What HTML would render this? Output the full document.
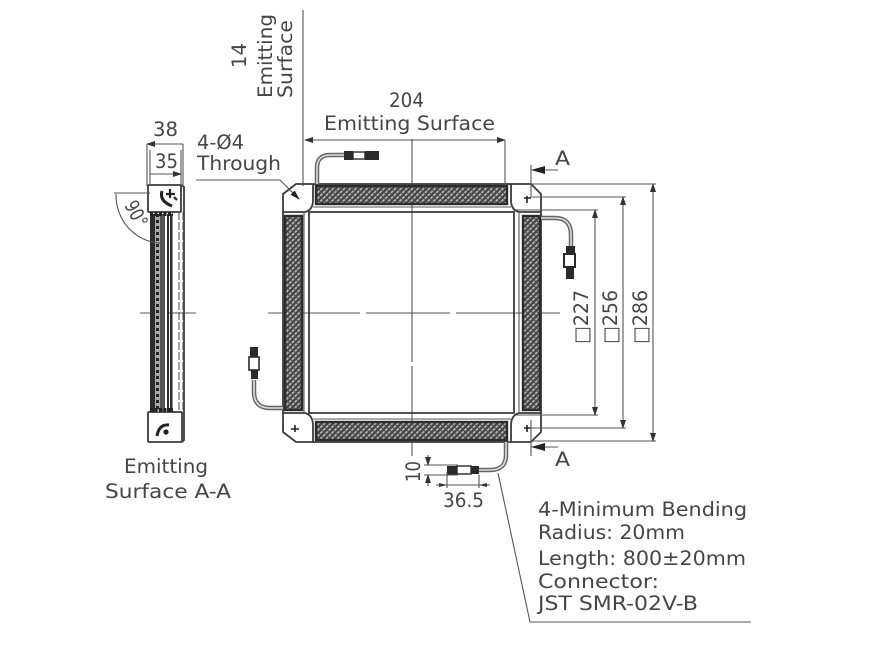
<!DOCTYPE html>
<html><head><meta charset="utf-8">
<style>
html,body{margin:0;padding:0;background:#fff;width:879px;height:664px;overflow:hidden}
svg{display:block}
text{font-family:"DejaVu Sans","Liberation Sans",sans-serif;font-size:19.5px;fill:#454545}
.d{stroke:#555;stroke-width:1.1;fill:none}
.m{stroke:#3a3a3a;stroke-width:1.8;fill:none}
.h{stroke:#2c2c2c;stroke-width:2.4;fill:url(#hatch)}
.c{stroke:#666;stroke-width:4.5;fill:none}
.ci{stroke:#ddd;stroke-width:1.6;fill:none}
</style></head><body>
<svg width="879" height="664" viewBox="0 0 879 664" xmlns="http://www.w3.org/2000/svg">
<defs>
<pattern id="hatch" width="4" height="4" patternUnits="userSpaceOnUse" patternTransform="rotate(45)">
<rect width="4" height="4" fill="#444"/>
<rect width="1.8" height="4" fill="#b4b4b4"/>
<rect width="4" height="1" fill="#444"/>
</pattern>
<marker id="ar" markerWidth="9" markerHeight="6" refX="8" refY="3" orient="auto-start-reverse" markerUnits="userSpaceOnUse"><path d="M0 0L9 3L0 6z" fill="#333"/></marker>
<marker id="bigar" markerWidth="14" markerHeight="8" refX="13" refY="4" orient="auto" markerUnits="userSpaceOnUse"><path d="M0 0L14 4L0 8z" fill="#222"/></marker>
<marker id="midar" markerWidth="10" markerHeight="6" refX="9" refY="3" orient="auto" markerUnits="userSpaceOnUse"><path d="M0 0L10 3L0 6z" fill="#222"/></marker>
</defs>

<!-- center lines -->
<path class="d" d="M412 139V362M412 366V456"/>
<path class="d" d="M268 313H360M366 313H450M456 313H560"/>
<path class="d" d="M140 313H196"/>
<path class="d" d="M303 10V186"/>

<!-- main frame -->
<path class="m" d="M296 184H531L541 194V432L531 442H296L283 432V194Z"/>
<path class="m" d="M309 212H514V413H309Z"/>
<path class="m" d="M283 212H305Q313 210 313 200V184M283 413H305Q313 415 313 426V442M541 212H519Q511 210 511 200V184M541 413H519Q511 415 511 426V442"/>
<path class="d" d="M304 212V413M519 212V413M313 207H511M313 419H511"/>
<rect class="h" x="316" y="186" width="191" height="18"/>
<rect class="h" x="316" y="422" width="191" height="18"/>
<rect class="h" x="285" y="216" width="17" height="194"/>
<rect class="h" x="523" y="216" width="17" height="194"/>

<!-- corner marks -->
<g stroke="#222" stroke-width="1.6">
<path d="M527 196V203M524 198H531"/><path d="M295 425V432M291 429H299"/><path d="M527 425V432M524 428H531"/>
</g>

<!-- cables -->
<g>
<path class="c" d="M317 184V168Q317 155 330 155H345"/><path class="ci" d="M317 184V168Q317 155 330 155H345"/>
<rect x="344" y="151" width="9" height="9" fill="#2a2a2a"/><rect x="353" y="152" width="12" height="7" fill="#fff" stroke="#2a2a2a" stroke-width="1.4"/><rect x="365" y="151" width="14" height="9" fill="#2a2a2a"/>

<path class="c" d="M541 218H555Q571 218 571 235V246"/><path class="ci" d="M541 218H555Q571 218 571 235V246"/>
<rect x="566" y="246" width="9" height="9" fill="#2a2a2a"/><rect x="564" y="254" width="11" height="13" fill="#fff" stroke="#2a2a2a" stroke-width="2"/><rect x="566" y="267" width="8" height="12" fill="#2a2a2a"/>

<path class="c" d="M283 408H270Q254 408 254 392V380"/><path class="ci" d="M283 408H270Q254 408 254 392V380"/>
<rect x="250" y="347" width="8" height="10" fill="#2a2a2a"/><rect x="249" y="357" width="10" height="13" fill="#fff" stroke="#2a2a2a" stroke-width="1.6"/><rect x="251" y="370" width="7" height="9" fill="#2a2a2a"/>

<path class="c" d="M506 442V455Q506 470 490 470H479"/><path class="ci" d="M506 442V455Q506 470 490 470H479"/>
<rect x="447" y="466" width="10" height="9" fill="#2a2a2a"/><rect x="457" y="466" width="14" height="8" fill="#fff" stroke="#2a2a2a" stroke-width="1.4"/><rect x="471" y="466" width="8" height="8" fill="#2a2a2a"/>
</g>

<!-- side view -->
<rect x="148" y="185" width="33" height="27" class="m" rx="1"/>
<rect x="148" y="412" width="34" height="30" class="m" rx="1"/>
<path class="m" d="M181 185L184 187V440L182 442"/>
<rect x="150" y="214" width="5" height="198" fill="#2c2c2c"/>
<rect x="155" y="214" width="5" height="198" fill="#aaa"/>
<path d="M157.500 214V412" stroke="#222" stroke-width="3" stroke-dasharray="3 3"/>
<rect x="160" y="214" width="5" height="198" fill="#555"/>
<rect x="165" y="214" width="2" height="198" fill="#fff"/>
<rect x="167" y="214" width="2" height="198" fill="#2c2c2c"/>
<rect x="170" y="214" width="2.500" height="198" fill="#2c2c2c"/>
<path class="d" d="M179 212V412M183 212V412" stroke-dasharray="8 2"/>
<path d="M150 214H173M150 410H173" stroke="#222" stroke-width="4" stroke-dasharray="3 1.500"/>
<path d="M162 191Q159 201 172 206" stroke="#222" stroke-width="3" fill="none"/>
<path d="M170 189V198M166 194H175M174 197l3 3" stroke="#222" stroke-width="2.200" fill="none"/>
<path d="M169 425Q159 424 157 436" stroke="#222" stroke-width="3" fill="none"/>
<circle cx="166" cy="432" r="2.600" fill="#222"/>

<!-- dimensions -->
<path class="d" d="M147 144V186M183 144V186M150 150V186M181 150V186"/>
<path class="d" d="M147 144H183M150 174H181" marker-start="url(#ar)" marker-end="url(#ar)"/>
<path class="d" d="M114 193H150"/>
<path class="d" d="M116 194A46 48 0 0 0 165 243" />
<path class="d" d="M305 140H505" marker-start="url(#ar)" marker-end="url(#ar)"/>
<path class="d" d="M505 140V186"/>
<path class="d" d="M196 180H280L299 199" marker-end="url(#midar)"/>

<path class="d" d="M516 210H598M530 197H626M531 184H656M516 415H598M530 428H626M531 441H656"/>
<path class="d" d="M595 210V415" marker-start="url(#ar)" marker-end="url(#ar)"/>
<path class="d" d="M623 197V428" marker-start="url(#ar)" marker-end="url(#ar)"/>
<path class="d" d="M653 184V441" marker-start="url(#ar)" marker-end="url(#ar)"/>

<path class="d" d="M531 165V196M531 420V456"/>
<path class="d" d="M558 170H532" marker-end="url(#bigar)"/>
<path class="d" d="M558 447H532" marker-end="url(#bigar)"/>

<path class="d" d="M424 465H458M424 475H458M447 472V488M479 475V488"/>
<path class="d" d="M428 455V465" marker-end="url(#ar)"/>
<path class="d" d="M428 486V475" marker-end="url(#ar)"/>
<path class="d" d="M436 485H490"/>
<path d="M447 485l-8 -2v4zM479 485l8 -2v4z" fill="#333"/>

<path class="d" d="M498 473L530 622H751" stroke-width="1.300"/>

<!-- text -->
<text x="389" y="107" textLength="35" lengthAdjust="spacingAndGlyphs">204</text>
<text x="324" y="130" textLength="171" lengthAdjust="spacingAndGlyphs">Emitting Surface</text>
<text x="153" y="136" textLength="25" lengthAdjust="spacingAndGlyphs">38</text>
<text x="155" y="168" textLength="23" lengthAdjust="spacingAndGlyphs">35</text>
<text x="197" y="149" textLength="47" lengthAdjust="spacingAndGlyphs">4-Ø4</text>
<text x="197" y="170" textLength="84" lengthAdjust="spacingAndGlyphs">Through</text>
<text x="555" y="165" textLength="15" lengthAdjust="spacingAndGlyphs">A</text>
<text x="555" y="466" textLength="15" lengthAdjust="spacingAndGlyphs">A</text>
<text x="124" y="473" textLength="84" lengthAdjust="spacingAndGlyphs">Emitting</text>
<text x="105" y="498" textLength="126" lengthAdjust="spacingAndGlyphs">Surface A-A</text>
<text x="443" y="507" textLength="41" lengthAdjust="spacingAndGlyphs">36.5</text>
<text x="538" y="516" textLength="209" lengthAdjust="spacingAndGlyphs">4-Minimum Bending</text>
<text x="538" y="539" textLength="147" lengthAdjust="spacingAndGlyphs">Radius: 20mm</text>
<text x="538" y="565" textLength="208" lengthAdjust="spacingAndGlyphs">Length: 800±20mm</text>
<text x="538" y="588" textLength="121" lengthAdjust="spacingAndGlyphs">Connector:</text>
<text x="538" y="610" textLength="160" lengthAdjust="spacingAndGlyphs">JST SMR-02V-B</text>

<text transform="translate(246 68) rotate(-90)" textLength="25" lengthAdjust="spacingAndGlyphs">14</text>
<text transform="translate(272 98) rotate(-90)" textLength="84" lengthAdjust="spacingAndGlyphs">Emitting</text>
<text transform="translate(292 98) rotate(-90)" textLength="78" lengthAdjust="spacingAndGlyphs">Surface</text>
<text transform="translate(420 482) rotate(-90)" textLength="21" lengthAdjust="spacingAndGlyphs">10</text>
<text transform="translate(588 344) rotate(-90)" textLength="54" lengthAdjust="spacingAndGlyphs">□227</text>
<text transform="translate(617 344) rotate(-90)" textLength="54" lengthAdjust="spacingAndGlyphs">□256</text>
<text transform="translate(647 344) rotate(-90)" textLength="54" lengthAdjust="spacingAndGlyphs">□286</text>
<text transform="translate(124 205) rotate(62)" textLength="27" lengthAdjust="spacingAndGlyphs">90°</text>
</svg>
</body></html>
